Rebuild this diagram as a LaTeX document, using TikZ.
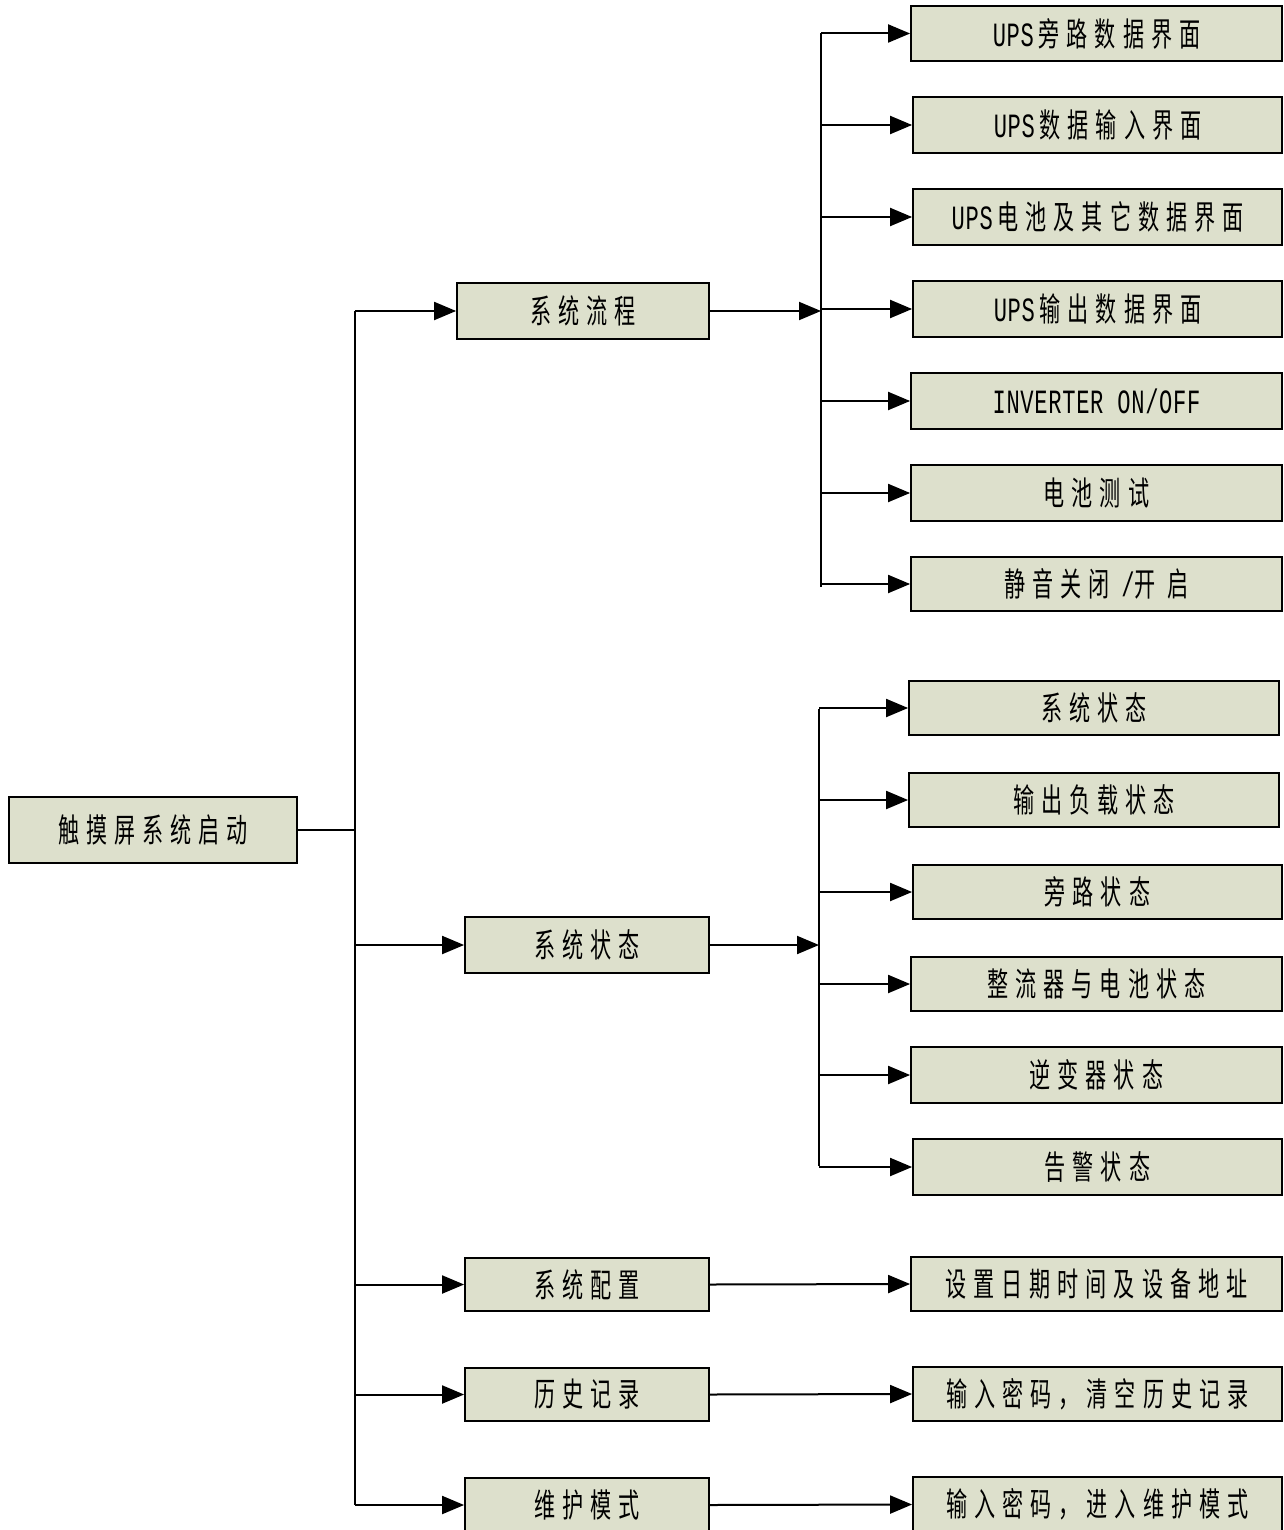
\documentclass[tikz,border=0pt]{standalone}
\usepackage{fontspec}
\usetikzlibrary{arrows.meta}
\newfontfamily\cjk[FakeStretch=0.64,LetterSpace=21]{Noto Sans CJK SC}
\newfontfamily\latf[FakeStretch=0.65,LetterSpace=2]{Liberation Mono}
\newcommand\lat[1]{{\fontsize{34}{36}\selectfont\latf #1}}
\newcommand\ups{\lat{UPS}\hspace{5pt}}
\definecolor{boxfill}{RGB}{221,224,204}
\newcommand\mybox[6]{\node[bx,minimum width={#4-#2},minimum height={#5-#3}] (#1) at ({(#2+#4)/2},{(#3+#5)/2}) {#6};}
\begin{document}
\begin{tikzpicture}[x=1pt,y=-1pt,
  bx/.style={draw=black,fill=boxfill,inner sep=0pt,line width=1.8pt,font={\fontsize{33}{35}\selectfont\cjk}},
  ln/.style={line width=2pt},
  arr/.style={line width=2pt,-{Triangle[length=22pt,width=18pt]}}]
\useasboundingbox (0,0) rectangle (1283,1530);
% root and level 1
\mybox{root}{9}{797}{297}{863}{触摸屏系统启动}
\mybox{a1}{457}{283}{709}{339}{系统流程}
\mybox{a2}{465}{917}{709}{973}{系统状态}
\mybox{a3}{465}{1258}{709}{1311}{系统配置}
\mybox{a4}{465}{1368}{709}{1421}{历史记录}
\mybox{a5}{465}{1478}{709}{1532}{维护模式}
% group 1
\mybox{b1}{911}{6}{1282}{61}{\ups 旁路数据界面}
\mybox{b2}{913}{97}{1282}{153}{\ups 数据输入界面}
\mybox{b3}{913}{189}{1282}{245}{\ups 电池及其它数据界面}
\mybox{b4}{913}{281}{1282}{337}{\ups 输出数据界面}
\mybox{b5}{911}{373}{1282}{429}{\lat{INVERTER ON/OFF}}
\mybox{b6}{911}{465}{1282}{521}{电池测试}
\mybox{b7}{911}{557}{1282}{611}{静音关闭 \lat{/}开 启}
% group 2
\mybox{c1}{909}{681}{1279}{735}{系统状态}
\mybox{c2}{909}{773}{1279}{827}{输出负载状态}
\mybox{c3}{913}{865}{1282}{919}{旁路状态}
\mybox{c4}{911}{957}{1282}{1011}{整流器与电池状态}
\mybox{c5}{911}{1047}{1282}{1103}{逆变器状态}
\mybox{c6}{913}{1139}{1282}{1195}{告警状态}
% group 3
\mybox{d3}{911}{1257}{1282}{1311}{设置日期时间及设备地址}
\mybox{d4}{913}{1367}{1282}{1421}{输入密码，清空历史记录}
\mybox{d5}{913}{1477}{1282}{1532}{输入密码，进入维护模式}
% trunk
\coordinate (ttop) at (355,311);
\coordinate (tbot) at (355,1505);
\draw[ln] (ttop) -- (tbot);
\draw[ln] (root.east) -- (root.east -| ttop);
\foreach \n in {a1,a2,a3,a4,a5} \draw[arr] (\n.west -| ttop) -- (\n.west);
% group 1 bus
\coordinate (g1top) at (821,33);
\coordinate (g1bot) at (821,587);
\draw[ln] (g1top) -- (g1bot);
\draw[arr] (a1.east) -- (a1.east -| g1top);
\foreach \n in {b1,b2,b3,b4,b5,b6,b7} \draw[arr] (\n.west -| g1top) -- (\n.west);
% group 2 bus
\coordinate (g2top) at (819,709);
\coordinate (g2bot) at (819,1166);
\draw[ln] (g2top) -- (g2bot);
\draw[arr] (a2.east) -- (a2.east -| g2top);
\foreach \n in {c1,c2,c3,c4,c5,c6} \draw[arr] (\n.west -| g2top) -- (\n.west);
% single chains
\draw[arr] (a3.east) -- (d3.west);
\draw[arr] (a4.east) -- (d4.west);
\draw[arr] (a5.east) -- (d5.west);
\end{tikzpicture}
\end{document}
